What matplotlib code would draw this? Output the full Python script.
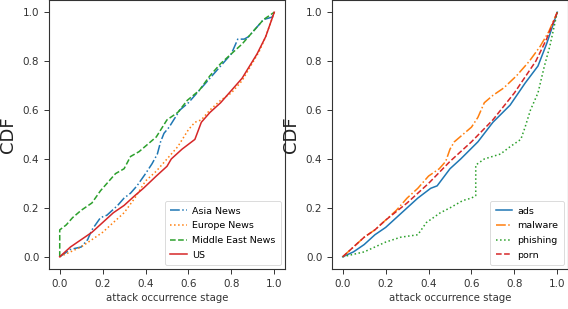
import matplotlib
matplotlib.use("Agg")
import matplotlib.pyplot as plt

# ---- Left panel data (attack occurrence stage vs CDF) ----
asia_x = [0.0, 0.05, 0.1, 0.13, 0.15, 0.19, 0.22, 0.27, 0.3, 0.33, 0.36, 0.4, 0.43, 0.455, 0.47, 0.486, 0.51, 0.56, 0.6, 0.65, 0.69, 0.75, 0.8, 0.83, 0.86, 0.88, 0.91, 0.95, 0.99, 1.0]
asia_y = [0.0, 0.03, 0.04, 0.07, 0.11, 0.16, 0.17, 0.21, 0.24, 0.26, 0.29, 0.34, 0.38, 0.42, 0.47, 0.505, 0.53, 0.6, 0.63, 0.68, 0.72, 0.78, 0.83, 0.89, 0.89, 0.9, 0.93, 0.97, 0.98, 1.0]

europe_x = [0.0, 0.05, 0.1, 0.15, 0.2, 0.25, 0.3, 0.35, 0.4, 0.45, 0.5, 0.55, 0.6, 0.63, 0.66, 0.7, 0.75, 0.8, 0.85, 0.89, 0.93, 0.96, 1.0]
europe_y = [0.0, 0.02, 0.04, 0.07, 0.1, 0.14, 0.18, 0.24, 0.31, 0.35, 0.4, 0.45, 0.52, 0.55, 0.56, 0.6, 0.64, 0.67, 0.72, 0.78, 0.84, 0.9, 1.0]

mideast_x = [0.0, 0.0, 0.03, 0.06, 0.1, 0.15, 0.19, 0.22, 0.26, 0.3, 0.33, 0.37, 0.41, 0.45, 0.5, 0.55, 0.595, 0.65, 0.7, 0.75, 0.8, 0.85, 0.9, 0.95, 1.0]
mideast_y = [0.0, 0.11, 0.13, 0.16, 0.19, 0.22, 0.27, 0.3, 0.34, 0.36, 0.41, 0.43, 0.46, 0.49, 0.56, 0.59, 0.64, 0.68, 0.74, 0.79, 0.83, 0.87, 0.92, 0.97, 1.0]

us_x = [0.0, 0.05, 0.1, 0.15, 0.2, 0.25, 0.3, 0.35, 0.39, 0.45, 0.5, 0.52, 0.57, 0.63, 0.66, 0.7, 0.75, 0.8, 0.85, 0.92, 0.96, 1.0]
us_y = [0.0, 0.04, 0.07, 0.1, 0.14, 0.18, 0.21, 0.25, 0.28, 0.33, 0.37, 0.4, 0.44, 0.48, 0.55, 0.59, 0.63, 0.68, 0.73, 0.83, 0.9, 1.0]

# ---- Right panel data ----
ads_x = [0.0, 0.05, 0.1, 0.15, 0.2, 0.25, 0.3, 0.35, 0.41, 0.44, 0.5, 0.55, 0.63, 0.7, 0.78, 0.85, 0.91, 0.95, 1.0]
ads_y = [0.0, 0.02, 0.05, 0.09, 0.12, 0.16, 0.2, 0.24, 0.28, 0.29, 0.36, 0.4, 0.47, 0.55, 0.62, 0.71, 0.78, 0.87, 1.0]

malware_x = [0.0, 0.05, 0.1, 0.15, 0.2, 0.25, 0.3, 0.35, 0.4, 0.45, 0.48, 0.5, 0.52, 0.56, 0.6, 0.63, 0.66, 0.7, 0.75, 0.81, 0.87, 0.92, 0.96, 1.0]
malware_y = [0.0, 0.04, 0.08, 0.11, 0.15, 0.19, 0.24, 0.28, 0.33, 0.36, 0.39, 0.44, 0.47, 0.5, 0.53, 0.57, 0.63, 0.66, 0.69, 0.74, 0.8, 0.86, 0.92, 1.0]

phishing_x = [0.0, 0.05, 0.1, 0.15, 0.2, 0.27, 0.35, 0.39, 0.455, 0.5, 0.56, 0.6, 0.62, 0.62, 0.66, 0.735, 0.78, 0.83, 0.85, 0.875, 0.91, 0.94, 0.965, 0.985, 1.0]
phishing_y = [0.0, 0.01, 0.02, 0.04, 0.06, 0.08, 0.09, 0.14, 0.18, 0.2, 0.23, 0.24, 0.25, 0.375, 0.4, 0.42, 0.45, 0.48, 0.53, 0.6, 0.67, 0.78, 0.86, 0.94, 1.0]

porn_x = [0.0, 0.05, 0.1, 0.15, 0.2, 0.3, 0.4, 0.5, 0.6, 0.7, 0.8, 0.9, 0.95, 1.0]
porn_y = [0.0, 0.04, 0.08, 0.11, 0.15, 0.22, 0.3, 0.39, 0.47, 0.56, 0.67, 0.8, 0.89, 1.0]

left_labels = ["Asia News", "Europe News", "Middle East News", "US"]
right_labels = ["ads", "malware", "phishing", "porn"]
ticks = [0.0, 0.2, 0.4, 0.6, 0.8, 1.0]
tick_labels = ["0.0", "0.2", "0.4", "0.6", "0.8", "1.0"]

fig = plt.figure(figsize=(5.68, 3.09), dpi=100)
W, H = 568.0, 309.0
ax1 = fig.add_axes([49 / W, 40 / H, 236 / W, 269 / H])
ax2 = fig.add_axes([332 / W, 40 / H, 236 / W, 269 / H])

lw = 1.1
ax1.plot(asia_x, asia_y, color="tab:blue", ls="-.", lw=lw, label=left_labels[0])
ax1.plot(europe_x, europe_y, color="tab:orange", ls=":", lw=lw, label=left_labels[1])
ax1.plot(mideast_x, mideast_y, color="tab:green", ls="--", lw=lw, label=left_labels[2])
ax1.plot(us_x, us_y, color="tab:red", ls="-", lw=lw, label=left_labels[3])

ax2.plot(ads_x, ads_y, color="tab:blue", ls="-", lw=lw, label=right_labels[0])
ax2.plot(malware_x, malware_y, color="tab:orange", ls="-.", lw=lw, label=right_labels[1])
ax2.plot(phishing_x, phishing_y, color="tab:green", ls=":", lw=lw, label=right_labels[2])
ax2.plot(porn_x, porn_y, color="tab:red", ls="--", lw=lw, label=right_labels[3])

for ax in (ax1, ax2):
    ax.set_xlim(-0.05, 1.05)
    ax.set_ylim(-0.05, 1.05)
    ax.set_xticks(ticks)
    ax.set_xticklabels(tick_labels)
    ax.set_yticks(ticks)
    ax.set_yticklabels(tick_labels)
    ax.tick_params(labelsize=7.5, length=3.5, width=0.7, pad=3.5, colors="#333333")
    for s in ax.spines.values():
        s.set_linewidth(0.8)
        s.set_color("#333333")
    ax.set_xlabel("attack occurrence stage", fontsize=7.3, color="#333333", labelpad=3)
    ax.set_ylabel("CDF", fontsize=13, color="#222222", labelpad=4)
    leg = ax.legend(loc="lower right", fontsize=6.8, handlelength=1.7, borderpad=0.6,
                    labelspacing=0.6, handletextpad=0.6, borderaxespad=0.4)
    leg.get_frame().set_linewidth(0.6)

fig.savefig("out.png", dpi=100)
